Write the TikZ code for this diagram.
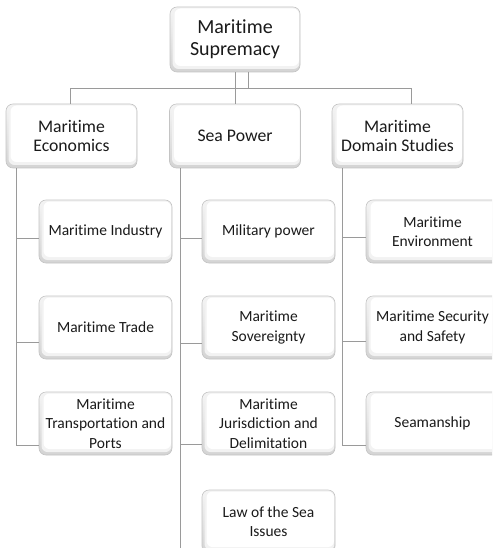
\documentclass[tikz,border=0pt]{standalone}
\usepackage{fontspec}
\setmainfont[Ligatures={NoCommon}]{Carlito}
\usetikzlibrary{calc}
\definecolor{linegray}{HTML}{9A9A9A}
\definecolor{bordergray}{HTML}{C4C4C4}
\definecolor{txt}{HTML}{1A1A1A}
\tikzset{
  boxbase/.style={rounded corners=7pt, draw=bordergray, line width=0.6pt,
    top color=gray!8, bottom color=gray!34, align=center, text=txt,
    inner sep=2pt,
    path picture={
      \fill[gray!10, rounded corners=6pt]
        ([xshift=2.5pt,yshift=3pt]path picture bounding box.south west) rectangle
        ([xshift=-0.5pt,yshift=-0.8pt]path picture bounding box.north east);
      \fill[white, rounded corners=6pt]
        ([xshift=4.5pt,yshift=6pt]path picture bounding box.south west) rectangle
        ([xshift=-1pt,yshift=-1.5pt]path picture bounding box.north east);
    }},
  topbox/.style={boxbase, minimum width=130pt, minimum height=65pt,
    font=\fontsize{20}{22}\selectfont},
  lvlbox/.style={boxbase, minimum width=131pt, minimum height=64pt,
    font=\fontsize{17.7}{19.5}\selectfont},
  childbox/.style={boxbase, minimum width=133pt, minimum height=63pt,
    font=\fontsize{15.5}{19.3}\selectfont},
  conn/.style={draw=linegray, line width=1pt}
}
\begin{document}
\begin{tikzpicture}[x=1pt,y=-1pt]
\useasboundingbox (0,0) rectangle (492,548);
\clip (0,0) rectangle (492,548);
\fill[white] (0,0) rectangle (492,548);
\coordinate (bus) at (0,89);
% nodes
\node[topbox] (top) at (235,39.5) {Maritime\\Supremacy};
\node[lvlbox] (econ) at (71.5,136) {Maritime\\Economics};
\node[lvlbox] (sea) at (235,136) {Sea Power};
\node[lvlbox] (dom) at (397.5,136) {Maritime\\Domain Studies};

\node[childbox] (ind) at (105.5,231.5) {Maritime Industry};
\node[childbox] (trd) at (105.5,327.5) {Maritime Trade};
\node[childbox] (trn) at (105.5,423.5) {Maritime\\Transportation and\\Ports};

\node[childbox] (mil) at (268.5,231.5) {Military power};
\node[childbox] (sov) at (268.5,327.5) {Maritime\\Sovereignty};
\node[childbox] (jur) at (268.5,423.5) {Maritime\\Jurisdiction and\\Delimitation};
\node[childbox] (law) at (268.5,521.5) {Law of the Sea\\Issues};

\node[childbox] (env) at (432.5,231.5) {Maritime\\Environment};
\node[childbox] (sec) at (432.5,327.5) {Maritime Security\\and Safety};
\node[childbox] (sea2) at (432.5,423.5) {Seamanship};

% top connectors
\draw[conn] (top.south) -- (sea.north);
\draw[conn] ([xshift=13pt]top.south) -- ([xshift=13pt]top.south |- bus);
\draw[conn] ([xshift=-1.5pt]econ.north) |- ([xshift=13.5pt]dom.north |- bus) -- ([xshift=13.5pt]dom.north);

% economics column
\draw[conn] ([xshift=11pt]econ.south west) |- ([yshift=-21.5pt]trn.west);
\draw[conn] ([xshift=11pt]econ.south west) |- ([yshift=-6.5pt]ind.west);
\draw[conn] ([xshift=11pt]econ.south west) |- ([yshift=-14.5pt]trd.west);

% sea power column
\draw[conn] ([xshift=11pt]sea.south west) |- ([yshift=-30pt]law.west);
\draw[conn] ([xshift=11pt]sea.south west) |- ([yshift=-6.5pt]mil.west);
\draw[conn] ([xshift=11pt]sea.south west) |- ([yshift=-15.5pt]sov.west);
\draw[conn] ([xshift=11pt]sea.south west) |- ([yshift=-20.5pt]jur.west);

% domain column
\draw[conn] ([xshift=11pt]dom.south west) |- ([yshift=-21.5pt]sea2.west);
\draw[conn] ([xshift=11pt]dom.south west) |- ([yshift=-5.5pt]env.west);
\draw[conn] ([xshift=11pt]dom.south west) |- ([yshift=-13.5pt]sec.west);
\end{tikzpicture}
\end{document}
